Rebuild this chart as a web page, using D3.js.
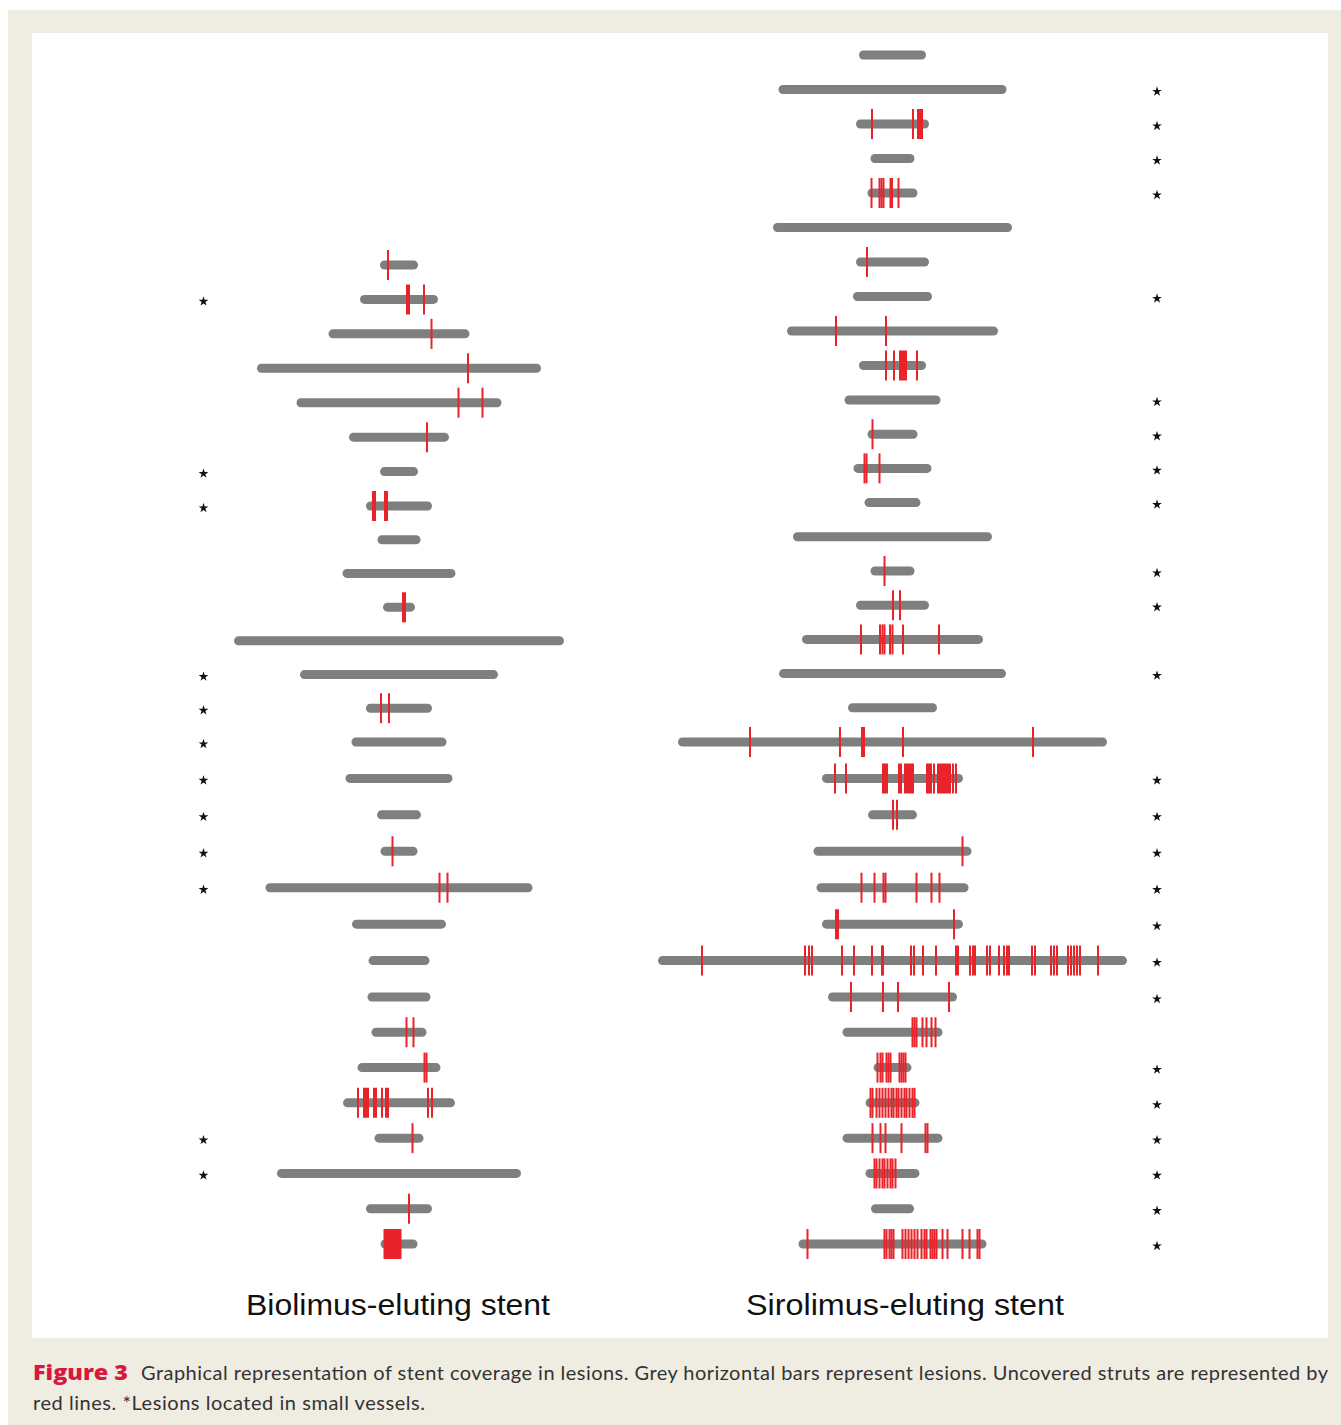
<!DOCTYPE html>
<html>
<head>
<meta charset="utf-8">
<script src="https://cdn.jsdelivr.net/npm/d3@7"></script>
<style>
  html, body { margin: 0; padding: 0; background: #ffffff; }
  svg { display: block; }
</style>
</head>
<body>
<div id="chart"></div>
<script>
// ---------------- DATA ----------------
// Column titles
const columnTitles = ["Biolimus-eluting stent", "Sirolimus-eluting stent"];

// Biolimus-eluting stent: lesion lengths (mm), uncovered strut positions (mm from lesion start), small vessel flag
const bioRowStart = 6;
const bioLength = [3.8, 7.8, 14.1, 28.4, 20.5, 10.0, 3.8, 6.6, 4.3, 11.3, 3.2, 33.0, 19.8, 6.6, 9.5,
                   10.7, 4.4, 3.7, 26.7, 9.4, 6.1, 6.3, 5.5, 8.3, 11.2, 4.9, 24.4, 6.6, 3.7];
const bioStruts = [
  [0.8],
  [4.7, 4.9, 6.4],
  [10.3],
  [21.1],
  [16.2, 18.6],
  [7.8],
  [],
  [0.7, 0.9, 1.9, 2.1],
  [],
  [],
  [2.0, 2.2],
  [],
  [],
  [1.5, 2.3],
  [],
  [],
  [],
  [1.2],
  [17.4, 18.2],
  [],
  [],
  [],
  [3.5, 4.2],
  [6.7, 6.9],
  [1.5, 2.1, 2.3, 2.5, 3.1, 3.3, 3.9, 4.3, 4.5, 8.5, 8.9],
  [3.8],
  [],
  [4.3],
  [0.4, 0.55, 0.7, 0.85, 1.0, 1.15, 1.3, 1.45, 1.6, 1.75, 1.9, 2.0]
];
const bioSmallVessel = [0, 1, 0, 0, 0, 0, 1, 1, 0, 0, 0, 0, 1, 1, 1,
                        1, 1, 1, 1, 0, 0, 0, 0, 0, 0, 1, 1, 0, 0];

// Sirolimus-eluting stent
const siroRowStart = 0;
const siroLength = [6.7, 22.8, 7.3, 4.4, 5.0, 23.9, 7.3, 7.9, 21.1, 6.7, 9.6, 5.0, 7.8, 5.6, 19.9,
                    4.4, 7.3, 18.1, 22.7, 8.9, 42.9, 14.1, 4.9, 15.8, 15.2, 14.1, 46.9, 12.9, 10.0,
                    3.8, 5.4, 10.0, 5.4, 4.3, 18.8];
const siroStruts = [
  [],
  [],
  [1.6, 5.7, 6.2, 6.4, 6.6],
  [],
  [0.4, 1.2, 1.4, 1.6, 2.3, 2.45, 3.1],
  [],
  [1.1],
  [],
  [4.9, 9.9],
  [2.7, 3.5, 4.1, 4.3, 4.5, 4.7, 5.8],
  [],
  [0.5],
  [1.1, 1.3, 2.6],
  [],
  [],
  [1.4],
  [3.7, 4.4],
  [5.9, 7.8, 8.05, 8.25, 8.8, 9.05, 10.1, 13.7],
  [],
  [],
  [7.2, 16.2, 18.4, 18.6, 22.5, 35.5],
  [1.3, 2.4, 6.1, 6.3, 6.5, 7.7, 7.9, 8.3, 8.5, 8.7, 8.9, 9.1, 10.5, 10.7, 10.9, 11.2,
   11.6, 11.8, 12.0, 12.2, 12.4, 12.6, 12.8, 13.1, 13.4],
  [2.5, 2.9],
  [14.9],
  [4.5, 5.8, 6.7, 6.9, 10.0, 11.5, 12.3],
  [1.4, 1.6, 13.2],
  [4.4, 14.7, 15.1, 15.4, 18.4, 19.6, 21.4, 22.4, 22.5, 25.3, 25.6, 26.5, 27.8, 29.8, 30.0,
   31.2, 31.5, 31.7, 32.9, 33.2, 34.1, 34.6, 34.9, 35.1, 37.4, 37.7, 39.3, 39.6, 39.9,
   41.0, 41.3, 41.6, 41.9, 42.2, 44.0],
  [2.3, 5.5, 7.0, 12.1],
  [7.0, 7.2, 7.4, 8.0, 8.4, 8.9, 9.3],
  [0.4, 0.7, 0.9, 1.3, 1.5, 1.7, 2.6, 2.8, 3.0, 3.2],
  [0.5, 0.7, 1.1, 1.4, 1.7, 2.0, 2.3, 2.6, 2.8, 3.1, 3.3, 3.6, 3.9, 4.1, 4.4, 4.7, 4.9],
  [3.0, 3.8, 4.3, 5.9, 8.3, 8.5],
  [0.9, 1.1, 1.4, 1.7, 1.9, 2.2, 2.5, 2.7, 3.0],
  [],
  [0.9, 8.6, 8.8, 9.1, 9.3, 9.5, 10.4, 10.7, 11.0, 11.3, 11.6, 11.9, 12.3, 12.6, 12.8,
   13.2, 13.4, 13.6, 13.8, 14.4, 14.9, 16.4, 17.1, 17.9, 18.1]
];
const siroSmallVessel = [0, 1, 1, 1, 1, 0, 0, 1, 0, 0, 1, 1, 1, 1, 0,
                         1, 1, 0, 1, 0, 0, 1, 1, 1, 1, 1, 1, 1, 0,
                         1, 1, 1, 1, 1, 1];

const captionLabel = "Figure 3";
const captionLine1 = "Graphical representation of stent coverage in lesions. Grey horizontal bars represent lesions. Uncovered struts are represented by";
const captionLine2 = "red lines. *Lesions located in small vessels.";

// ---------------- DRAWING ----------------
const W = 1341, H = 1425;
const svg = d3.select("#chart").append("svg")
  .attr("width", W).attr("height", H)
  .attr("viewBox", `0 0 ${W} ${H}`);

// background frame
svg.append("rect").attr("x", 8).attr("y", 10).attr("width", W - 8).attr("height", H - 10)
  .attr("fill", "#efece2");
svg.append("rect").attr("x", 32).attr("y", 33).attr("width", 1296).attr("height", 1305)
  .attr("fill", "#ffffff");

const barColor = "#7f7f7f";
const strutColor = "#e8232a";
const barH = 9;
const strutHalf = 15;

function drawColumn(cfg) {
  const x = d3.scaleLinear().domain([-25, 25]).range([cfg.center - 250, cfg.center + 250]);
  const y = d3.scaleLinear().domain(cfg.rowKnots).range(cfg.yKnots);
  const rows = cfg.lengths.map((len, i) => ({
    row: i + cfg.rowStart,
    len: len,
    struts: cfg.struts[i],
    small: cfg.small[i]
  }));
  const g = svg.append("g");

  g.selectAll("rect.bar").data(rows).join("rect")
    .attr("class", "bar")
    .attr("x", d => x(-d.len / 2))
    .attr("y", d => y(d.row) - barH / 2)
    .attr("width", d => x(d.len / 2) - x(-d.len / 2))
    .attr("height", barH)
    .attr("rx", barH / 2).attr("ry", barH / 2)
    .attr("fill", barColor);

  const strutData = rows.flatMap(d => d.struts.map(s => ({ row: d.row, pos: -d.len / 2 + s })));
  g.selectAll("line.strut").data(strutData).join("line")
    .attr("class", "strut")
    .attr("x1", d => x(d.pos)).attr("x2", d => x(d.pos))
    .attr("y1", d => y(d.row) - strutHalf).attr("y2", d => y(d.row) + strutHalf)
    .attr("stroke", strutColor).attr("stroke-width", 2);

  g.selectAll("path.star").data(rows.filter(d => d.small)).join("path")
    .attr("class", "star")
    .attr("d", d3.symbol().type(d3.symbolStar).size(30))
    .attr("transform", d => `translate(${cfg.starX},${y(d.row) + 2})`)
    .attr("fill", "#111");

  svg.append("text")
    .attr("x", cfg.titleX).attr("y", 1315)
    .attr("text-anchor", "middle")
    .attr("font-family", "'Liberation Sans', Arial, Helvetica, sans-serif")
    .attr("font-size", 29.5)
    .attr("fill", "#111")
    .attr("textLength", cfg.titleW)
    .attr("lengthAdjust", "spacingAndGlyphs")
    .text(cfg.title);
}

drawColumn({ center: 399, rowStart: bioRowStart, lengths: bioLength, struts: bioStruts,
             small: bioSmallVessel, starX: 203.5, titleX: 398, titleW: 304, title: columnTitles[0],
             rowKnots: [6, 13, 20, 27, 34], yKnots: [265, 506, 742, 997, 1244] });
drawColumn({ center: 892.5, rowStart: siroRowStart, lengths: siroLength, struts: siroStruts,
             small: siroSmallVessel, starX: 1157, titleX: 905, titleW: 318, title: columnTitles[1],
             rowKnots: [0, 10, 20, 27, 34], yKnots: [55, 400, 742, 997, 1244] });

// caption
const capFont = "Lato, 'Open Sans', sans-serif";
svg.append("text")
  .attr("x", 33).attr("y", 1380)
  .attr("font-family", "'Open Sans', Lato, sans-serif").attr("font-weight", 800).attr("font-size", 21)
  .attr("fill", "#d7193f")
  .attr("textLength", 95)
  .attr("lengthAdjust", "spacingAndGlyphs")
  .text(captionLabel);
svg.append("text")
  .attr("x", 141).attr("y", 1380)
  .attr("font-family", capFont).attr("font-size", 20)
  .attr("fill", "#333")
  .attr("textLength", 1328 - 141)
  .attr("lengthAdjust", "spacing")
  .text(captionLine1);
svg.append("text")
  .attr("x", 33).attr("y", 1410)
  .attr("font-family", capFont).attr("font-size", 20)
  .attr("fill", "#333")
  .attr("textLength", 392)
  .attr("lengthAdjust", "spacing")
  .text(captionLine2);
</script>
</body>
</html>
